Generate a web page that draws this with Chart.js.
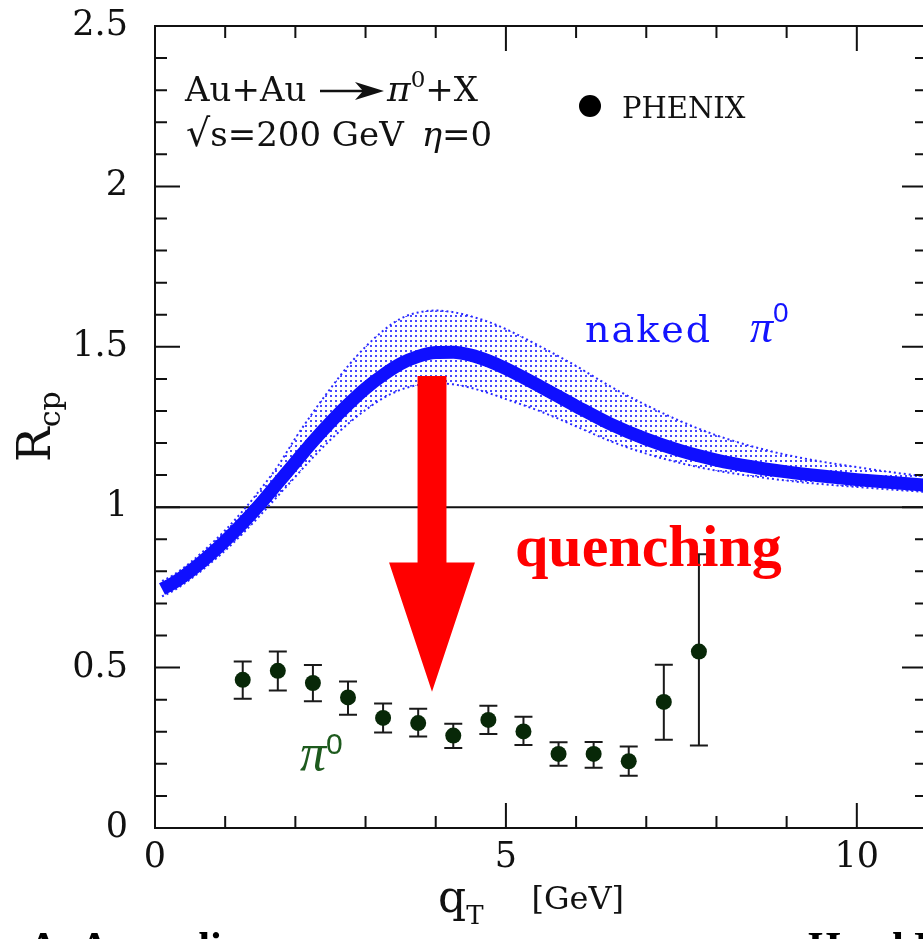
<!DOCTYPE html>
<html>
<head>
<meta charset="utf-8">
<title>R_cp Au+Au pi0</title>
<script src="https://cdn.jsdelivr.net/npm/chart.js@4.4.1/dist/chart.umd.min.js"></script>
<style>
    html, body { margin: 0; padding: 0; background: #fff; overflow: hidden; }
    #wrap { width: 923px; height: 939px; overflow: hidden; }
    canvas { display: block; }
</style>
</head>
<body>
<div id="wrap"><canvas id="rcpChart" width="935" height="939"></canvas></div>
<script>
// theory curve sampling, q_T in GeV
const curveQt = [0.1, 0.25, 0.5, 0.75, 1, 1.25, 1.5, 1.75, 2, 2.25, 2.5, 2.75, 3, 3.25, 3.5, 3.75,
    4, 4.25, 4.5, 4.75, 5, 5.5, 6, 6.5, 7, 7.5, 8, 8.5, 9, 9.5, 10, 10.5, 11];
const nakedCentral = [0.745, 0.762, 0.800, 0.845, 0.895, 0.950, 1.010, 1.075, 1.140, 1.205, 1.265, 1.320,
    1.370, 1.412, 1.447, 1.470, 1.482, 1.483, 1.474, 1.456, 1.432, 1.375, 1.315, 1.258, 1.212, 1.175,
    1.147, 1.126, 1.110, 1.097, 1.086, 1.077, 1.068];
const nakedUpper = [0.770, 0.787, 0.827, 0.875, 0.928, 0.988, 1.055, 1.128, 1.215, 1.295, 1.370, 1.440,
    1.500, 1.550, 1.588, 1.607, 1.613, 1.608, 1.595, 1.578, 1.555, 1.500, 1.440, 1.375, 1.318, 1.267,
    1.224, 1.190, 1.163, 1.142, 1.125, 1.109, 1.095];
const nakedLower = [0.722, 0.738, 0.775, 0.818, 0.865, 0.918, 0.975, 1.035, 1.095, 1.155, 1.210, 1.260,
    1.303, 1.340, 1.366, 1.381, 1.386, 1.383, 1.372, 1.356, 1.337, 1.298, 1.252, 1.205, 1.167, 1.137,
    1.114, 1.097, 1.083, 1.072, 1.063, 1.055, 1.047];

// PHENIX pi0 R_cp with error bar ends
const phenixQt = [1.25, 1.75, 2.25, 2.75, 3.25, 3.75, 4.25, 4.75, 5.25, 5.75, 6.25, 6.75, 7.25, 7.75];
const phenixRcp = [0.462, 0.490, 0.452, 0.407, 0.343, 0.327, 0.288, 0.337, 0.301, 0.231, 0.231, 0.208, 0.393, 0.550];
const phenixErrHigh = [0.519, 0.550, 0.508, 0.457, 0.388, 0.372, 0.325, 0.381, 0.347, 0.267, 0.268, 0.254, 0.509, 0.853];
const phenixErrLow = [0.403, 0.429, 0.395, 0.353, 0.298, 0.285, 0.249, 0.293, 0.259, 0.194, 0.188, 0.163, 0.275, 0.257];

const xTickLabels = ['0', '5', '10'];
const yTickLabels = ['0', '0.5', '1', '1.5', '2', '2.5'];

document.addEventListener('DOMContentLoaded', function () {
    const canvas = document.getElementById('rcpChart');
    const ctx = canvas.getContext('2d');

    // arrow from the naked curve down to the data (data units)
    const arrow = {q: 3.947, top: 1.409, neck: 0.828, tip: 0.425, shaft: 0.206, head: 0.612};

    function dotFill() {
        const tile = document.createElement('canvas');
        tile.width = 5;
        tile.height = 5;
        const t = tile.getContext('2d');
        t.fillStyle = 'rgba(25, 25, 255, 0.8)';
        t.fillRect(0, 0, 2, 2);
        return ctx.createPattern(tile, 'repeat');
    }

    const isMajor = (v, step) => Math.abs(v / step - Math.round(v / step)) < 1e-6;
    const fmt = v => String(Math.round(v * 10) / 10);

    // write a run of text pieces one after the other
    function runs(c, x, y, parts) {
        parts.forEach(p => {
            c.font = p.font;
            c.fillStyle = p.color || '#111';
            c.fillText(p.text, x, y + (p.dy || 0));
            x += c.measureText(p.text).width + (p.gap || 0);
        });
        return x;
    }

    const decor = {
        id: 'decor',
        beforeDatasetsDraw(chart) {
            const {ctx: c, chartArea: a, scales: {x, y}} = chart;
            c.save();
            c.strokeStyle = '#111';
            c.lineWidth = 2;
            const y1 = y.getPixelForValue(1);
            c.beginPath();
            c.moveTo(a.left, y1);
            c.lineTo(a.right, y1);
            c.stroke();

            // error bars
            c.strokeStyle = '#1a1a1a';
            c.lineWidth = 2;
            phenixQt.forEach((q, i) => {
                const px = x.getPixelForValue(q);
                const lo = y.getPixelForValue(phenixErrLow[i]);
                const hi = y.getPixelForValue(phenixErrHigh[i]);
                c.beginPath();
                c.moveTo(px, lo); c.lineTo(px, hi);
                c.moveTo(px - 9, lo); c.lineTo(px + 9, lo);
                c.moveTo(px - 9, hi); c.lineTo(px + 9, hi);
                c.stroke();
            });
            c.restore();
        },
        afterDatasetsDraw(chart) {
            const {ctx: c, scales: {x, y}} = chart;
            const cx = x.getPixelForValue(arrow.q);
            const sw = x.getPixelForValue(arrow.q + arrow.shaft) - cx;
            const hw = x.getPixelForValue(arrow.q + arrow.head) - cx;
            const yTop = y.getPixelForValue(arrow.top);
            const yNeck = y.getPixelForValue(arrow.neck);
            const yTip = y.getPixelForValue(arrow.tip);
            c.save();
            c.fillStyle = '#ff0000';
            c.beginPath();
            c.moveTo(cx - sw, yTop);
            c.lineTo(cx + sw, yTop);
            c.lineTo(cx + sw, yNeck);
            c.lineTo(cx + hw, yNeck);
            c.lineTo(cx, yTip);
            c.lineTo(cx - hw, yNeck);
            c.lineTo(cx - sw, yNeck);
            c.closePath();
            c.fill();
            c.restore();
        },
        afterDraw(chart) {
            const {ctx: c, chartArea: a, scales: {x, y}} = chart;
            c.save();
            // frame
            c.strokeStyle = '#111';
            c.lineWidth = 2;
            c.strokeRect(a.left, a.top, a.right - a.left, a.bottom - a.top);

            // inward ticks on all four sides
            c.beginPath();
            x.ticks.forEach(t => {
                const px = x.getPixelForValue(t.value);
                const len = isMajor(t.value, 5) ? 25 : 12;
                c.moveTo(px, a.bottom); c.lineTo(px, a.bottom - len);
                c.moveTo(px, a.top); c.lineTo(px, a.top + len);
            });
            y.ticks.forEach(t => {
                const py = y.getPixelForValue(t.value);
                const len = isMajor(t.value, 0.5) ? 25 : 12;
                c.moveTo(a.left, py); c.lineTo(a.left + len, py);
                c.moveTo(a.right, py); c.lineTo(a.right - len, py);
            });
            c.stroke();

            c.textAlign = 'left';
            c.textBaseline = 'alphabetic';

            // process label
            runs(c, 185, 101, [{text: 'Au+Au', font: '34px "DejaVu Serif"'}]);
            c.lineWidth = 2.5;
            c.beginPath();
            c.moveTo(320, 91); c.lineTo(368, 91);
            c.stroke();
            c.fillStyle = '#111';
            c.beginPath();
            c.moveTo(384, 91); c.lineTo(355, 82); c.lineTo(363, 91); c.lineTo(355, 100);
            c.closePath();
            c.fill();
            runs(c, 387, 101, [
                {text: 'π', font: 'italic 36px "DejaVu Serif"'},
                {text: '0', font: '23px "DejaVu Serif"', dy: -14},
                {text: '+X', font: '34px "DejaVu Serif"'}
            ]);
            runs(c, 186, 146, [
                {text: '√', font: '38px "DejaVu Sans"'},
                {text: 's=200 GeV', font: '34px "DejaVu Serif"', gap: 18},
                {text: 'η', font: 'italic 34px "DejaVu Serif"'},
                {text: '=0', font: '34px "DejaVu Serif"'}
            ]);

            // legend entry
            c.fillStyle = '#000';
            c.beginPath();
            c.arc(590, 106, 11, 0, Math.PI * 2);
            c.fill();
            runs(c, 622, 118, [{text: 'PHENIX', font: '29px "DejaVu Serif"'}]);

            // curve and data labels
            c.letterSpacing = '2px';
            runs(c, 585, 342, [{text: 'naked', font: '38px "DejaVu Serif"', color: '#1414ff'}]);
            c.letterSpacing = '0px';
            runs(c, 750, 342, [
                {text: 'π', font: 'italic 46px "Liberation Serif"', color: '#1414ff'},
                {text: '0', font: '28px "Liberation Sans"', color: '#1414ff', dy: -20}
            ]);
            runs(c, 515, 566, [{text: 'quenching', font: 'bold 60px "Liberation Serif"', color: '#ff0000'}]);
            runs(c, 300, 770, [
                {text: 'π', font: 'italic 52px "Liberation Serif"', color: '#1d5a1d'},
                {text: '0', font: '30px "Liberation Sans"', color: '#1d5a1d', dy: -16}
            ]);

            // axis titles
            runs(c, 438, 912, [
                {text: 'q', font: '44px "DejaVu Serif"'},
                {text: 'T', font: '26px "DejaVu Serif"', dy: 12, gap: 48},
                {text: '[GeV]', font: '32px "DejaVu Serif"', dy: -3}
            ]);
            c.save();
            c.translate(50, 462);
            c.rotate(-Math.PI / 2);
            runs(c, 0, 0, [
                {text: 'R', font: '46px "DejaVu Serif"'},
                {text: 'cp', font: '30px "DejaVu Serif"', dy: 10}
            ]);
            c.restore();

            // page footer, mostly off the canvas
            runs(c, 28, 961, [{text: 'A. Accardi', font: 'bold 42px "Liberation Serif"', color: '#000'}]);
            runs(c, 808, 961, [{text: 'Hard Probes', font: 'bold 42px "Liberation Serif"', color: '#000'}]);
            c.restore();
        }
    };

    const toPoints = (xs, ys) => xs.map((q, i) => ({x: q, y: ys[i]}));
    const band = dotFill();

    new Chart(canvas, {
        type: 'line',
        data: {
            datasets: [{
                    label: 'PHENIX',
                    data: toPoints(phenixQt, phenixRcp),
                    showLine: false,
                    pointRadius: 8,
                    pointBackgroundColor: '#082808',
                    pointBorderColor: '#082808',
                    pointBorderWidth: 0
                }, {
                    label: 'naked pi0',
                    data: toPoints(curveQt, nakedCentral),
                    borderColor: '#0f0fff',
                    borderWidth: 13,
                    pointRadius: 0,
                    cubicInterpolationMode: 'monotone',
                    fill: false
                }, {
                    label: 'upper',
                    data: toPoints(curveQt, nakedUpper),
                    borderColor: '#2a2aff',
                    borderWidth: 2,
                    borderDash: [2, 3],
                    pointRadius: 0,
                    cubicInterpolationMode: 'monotone',
                    backgroundColor: band,
                    fill: '+1'
                }, {
                    label: 'lower',
                    data: toPoints(curveQt, nakedLower),
                    borderColor: '#2a2aff',
                    borderWidth: 2,
                    borderDash: [2, 3],
                    pointRadius: 0,
                    cubicInterpolationMode: 'monotone',
                    fill: false
                }]
        },
        options: {
            responsive: false,
            animation: false,
            devicePixelRatio: 1,
            layout: {padding: {top: 26, right: 7, left: 0, bottom: 0}},
            plugins: {
                legend: {display: false},
                tooltip: {enabled: false},
                title: {display: false}
            },
            scales: {
                x: {
                    type: 'linear',
                    min: 0,
                    max: 11,
                    grid: {display: false, drawTicks: false},
                    border: {display: false},
                    ticks: {
                        stepSize: 1,
                        autoSkip: false,
                        maxRotation: 0,
                        padding: 9,
                        color: '#111',
                        font: {family: 'DejaVu Serif', size: 35},
                        callback: v => xTickLabels.includes(fmt(v)) ? fmt(v) : ''
                    },
                    afterFit: s => { s.height = 111; s.paddingLeft = 0; s.paddingRight = 0; }
                },
                y: {
                    type: 'linear',
                    min: 0,
                    max: 2.5,
                    grid: {display: false, drawTicks: false},
                    border: {display: false},
                    ticks: {
                        stepSize: 0.1,
                        autoSkip: false,
                        padding: 27,
                        color: '#111',
                        font: {family: 'DejaVu Serif', size: 35},
                        callback: v => yTickLabels.includes(fmt(v)) ? fmt(v) : ''
                    },
                    afterFit: s => { s.width = 155; s.paddingTop = 0; s.paddingBottom = 0; }
                }
            }
        },
        plugins: [decor]
    });
});
</script>
</body>
</html>
